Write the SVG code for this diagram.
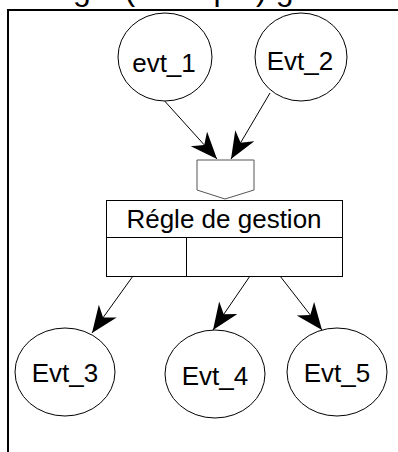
<svg xmlns="http://www.w3.org/2000/svg" width="398" height="452" viewBox="0 0 398 452">
<style>
text{font-family:"Liberation Sans",Arial,sans-serif;fill:#000}
.lbl{font-size:26px;text-anchor:middle}
.ell{fill:#fff;stroke:#000;stroke-width:1}
.edge{stroke:#000;stroke-width:1;fill:none;marker-end:url(#ah)}
</style>
<defs>
<marker id="ah" markerUnits="userSpaceOnUse" markerWidth="30" markerHeight="24" refX="27" refY="11" orient="auto">
<path d="M0,0 L27,11 L0,22 L8,11 Z" fill="#000"/>
</marker>
</defs>
<rect width="398" height="452" fill="#fff"/>
<text x="32" y="0" font-size="32">Règle (exemple) gestion</text>
<path d="M8,452 V10 H398" fill="none" stroke="#000" stroke-width="2"/>
<g id="connectors">
<line class="edge" x1="161" y1="97" x2="217" y2="159"/>
<line class="edge" x1="270" y1="93" x2="231" y2="159"/>
<line class="edge" x1="133" y1="276" x2="92" y2="333"/>
<line class="edge" x1="250" y1="276" x2="213" y2="330"/>
<line class="edge" x1="280" y1="276" x2="322" y2="330"/>
</g>
<g id="evt_1">
<ellipse class="ell" cx="165" cy="57" rx="47" ry="44"/>
<text class="lbl" x="164" y="72">evt_1</text>
</g>
<g id="Evt_2">
<ellipse class="ell" cx="301" cy="57" rx="46" ry="44"/>
<text class="lbl" x="300" y="70">Evt_2</text>
</g>
<g id="junction">
<path d="M197,160 H254 V190 L225,199 L197,190 Z" fill="#fff" stroke="#555" stroke-width="1"/>
</g>
<g id="regle">
<rect x="106.5" y="200.5" width="236" height="76" fill="#fff" stroke="#000" stroke-width="1"/>
<line x1="106.5" y1="237.5" x2="342.5" y2="237.5" stroke="#000"/>
<line x1="186.5" y1="237.5" x2="186.5" y2="276.5" stroke="#000"/>
<text class="lbl" x="224" y="228">Régle de gestion</text>
</g>
<g id="Evt_3">
<ellipse class="ell" cx="65" cy="372" rx="50" ry="44"/>
<text class="lbl" x="65" y="382">Evt_3</text>
</g>
<g id="Evt_4">
<ellipse class="ell" cx="215" cy="374" rx="50" ry="44"/>
<text class="lbl" x="215" y="385">Evt_4</text>
</g>
<g id="Evt_5">
<ellipse class="ell" cx="337" cy="372" rx="50" ry="44"/>
<text class="lbl" x="337" y="382">Evt_5</text>
</g>
</svg>
